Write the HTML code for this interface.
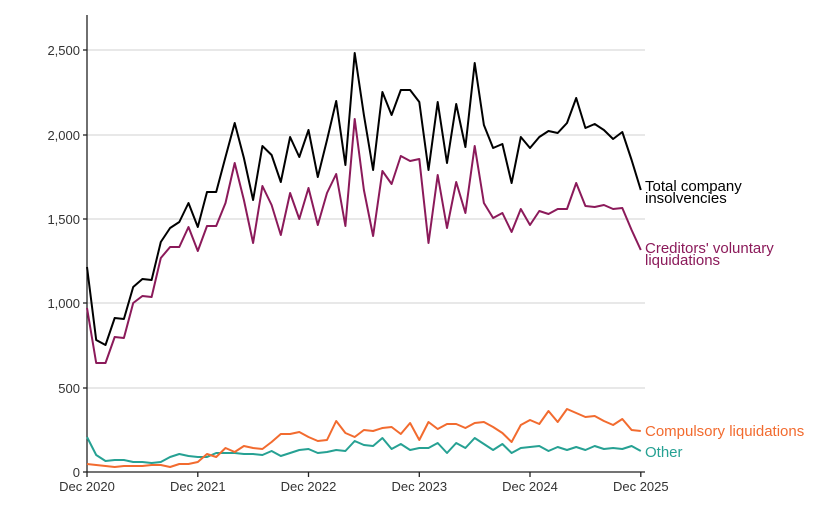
<!DOCTYPE html>
<html><head><meta charset="utf-8"><style>
body{margin:0;background:#fff;}
svg{display:block;font-family:"Liberation Sans",sans-serif;}
</style></head><body>
<svg id="s" width="837" height="528" xmlns="http://www.w3.org/2000/svg">
<g stroke="#d9d9d9" stroke-width="1.3">
<line x1="87" x2="645" y1="50" y2="50"/><line x1="87" x2="645" y1="135" y2="135"/><line x1="87" x2="645" y1="219" y2="219"/><line x1="87" x2="645" y1="303" y2="303"/><line x1="87" x2="645" y1="388" y2="388"/>
</g>
<g stroke="#222" stroke-width="1.3">
<line x1="87" x2="87" y1="15" y2="472"/><line x1="87" x2="645" y1="472" y2="472"/>
<line x1="83" x2="87" y1="50" y2="50"/><line x1="83" x2="87" y1="135" y2="135"/><line x1="83" x2="87" y1="219" y2="219"/><line x1="83" x2="87" y1="303" y2="303"/><line x1="83" x2="87" y1="388" y2="388"/><line x1="83" x2="87" y1="472" y2="472"/>
<line x1="87" x2="87" y1="472" y2="477"/><line x1="197.8" x2="197.8" y1="472" y2="477"/><line x1="308.5" x2="308.5" y1="472" y2="477"/><line x1="419.3" x2="419.3" y1="472" y2="477"/><line x1="530" x2="530" y1="472" y2="477"/><line x1="640.8" x2="640.8" y1="472" y2="477"/>
</g>
<g font-size="13" fill="#333" text-anchor="end">
<text x="80" y="55">2,500</text><text x="80" y="140">2,000</text><text x="80" y="224">1,500</text><text x="80" y="308">1,000</text><text x="80" y="393">500</text><text x="80" y="477">0</text>
</g>
<g font-size="13" fill="#333" text-anchor="middle">
<text x="87" y="491">Dec 2020</text><text x="197.8" y="491">Dec 2021</text><text x="308.5" y="491">Dec 2022</text><text x="419.3" y="491">Dec 2023</text><text x="530" y="491">Dec 2024</text><text x="640.8" y="491">Dec 2025</text>
</g>
<g font-size="15">
<text x="645" y="191" fill="#000">Total company</text><text x="645" y="203" fill="#000">insolvencies</text>
<text x="645" y="253" fill="#8b1a5a">Creditors' voluntary</text><text x="645" y="265" fill="#8b1a5a">liquidations</text>
<text x="645" y="436" fill="#f26b2f">Compulsory liquidations</text>
<text x="645" y="457" fill="#26a193">Other</text>
</g>
</svg>
<script>
var T=[267,340,345,318,319,287,279,280,242,228,222,203,227,192,192,157,123,158,200,146,155,182,137,157,130,177,140,101,165,53,115,170,92,115,90,90,102,170,102,163,104,147,63,125,148,144,183,137,148,137,131,133,123,98,128,124,130,139,132,160,190];
var P=[308,363,363,337,338,303,296,297,258,247,247,227,251,226,226,203,163,200,243,186,205,235,193,219,188,225,193,174,226,119,190,236,171,184,156,161,159,243,175,228,182,213,146,203,218,213,232,209,225,211,214,209,209,183,206,207,205,209,208,230,250];
var O=[464,465,466,467,466,466,466,465,465,467,464,464,462,454,457,448,452,446,448,449,442,434,434,432,437,441,440,421,433,437,430,431,428,427,434,423,440,422,429,424,424,428,423,422,427,433,442,425,420,424,411,422,409,413,417,416,421,425,419,430,431];
var G=[437,455,461,460,460,462,462,463,462,457,454,456,457,457,453,453,453,454,454,455,451,456,453,450,449,453,452,450,451,441,445,446,438,449,444,450,448,448,443,453,443,448,438,444,450,444,453,448,447,446,451,447,450,447,450,446,449,448,449,446,451];
var s=document.getElementById('s');
function pl(a,c){var p=a.map(function(y,i){return (87+i*9.23).toFixed(1)+','+y}).join(' ');
var e=document.createElementNS('http://www.w3.org/2000/svg','polyline');e.setAttribute('points',p);e.setAttribute('fill','none');e.setAttribute('stroke',c);e.setAttribute('stroke-width','2');e.setAttribute('stroke-linejoin','round');s.appendChild(e);}
pl(G,'#26a193');pl(O,'#f26b2f');pl(P,'#8b1a5a');pl(T,'#000');
</script>
</body></html>
